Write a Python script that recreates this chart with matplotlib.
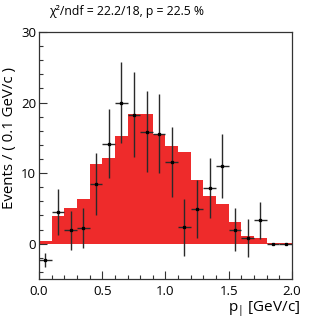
import numpy as np
import matplotlib
matplotlib.use("Agg")
import matplotlib.pyplot as plt
from matplotlib.ticker import MultipleLocator

# ---- data ----
bin_edges = [round(0.1 * i, 1) for i in range(21)]
fit_values = [0.4, 3.9, 5.0, 6.3, 11.3, 12.1, 15.2, 18.4, 18.4, 15.5,
              13.9, 13.0, 9.0, 6.8, 5.6, 3.1, 1.1, 0.76, 0.1, 0.05]
data_values = [-2.3, 4.5, 1.9, 2.2, 8.5, 14.2, 20.0, 18.3, 15.9, 15.6,
               11.6, 2.3, 4.9, 7.9, 11.0, 2.0, 0.86, 3.3, 0.0, 0.0]
data_errors = [1.0, 3.3, 2.8, 2.8, 4.4, 4.9, 5.7, 6.0, 5.7, 5.6,
               5.0, 4.0, 4.1, 4.2, 4.5, 3.0, 2.7, 2.6, 0.1, 0.1]
title_text = "\u03c7\u00b2/ndf = 22.2/18, p = 22.5 %"
y_label = "Events / ( 0.1 GeV/c )"
x_label = r"$\mathregular{p_{|}}$ [GeV/c]"

plt.rcParams['font.family'] = ['Open Sans', 'DejaVu Sans']
plt.rcParams['mathtext.fontset'] = 'custom'
plt.rcParams['mathtext.rm'] = 'Open Sans'

fig = plt.figure(figsize=(3.27, 3.22), dpi=100)
ax = fig.add_axes([39/327, 1 - 279/322, (292 - 39)/327, (279 - 32)/322])

edges = np.array(bin_edges)
centers = 0.5 * (edges[:-1] + edges[1:])
ax.stairs(fit_values, edges, fill=True, color='#ee2b2b', baseline=0, zorder=1)
ax.errorbar(centers, data_values, yerr=data_errors, xerr=0.05, fmt='s',
            ms=1.4, color='black', ecolor='#2a2a2a', elinewidth=1.0,
            capsize=0, zorder=3)

ax.set_xlim(0, 2.0)
ax.set_ylim(-5, 30)
ax.xaxis.set_major_locator(MultipleLocator(0.5))
ax.xaxis.set_minor_locator(MultipleLocator(0.1))
ax.yaxis.set_major_locator(MultipleLocator(10))
ax.yaxis.set_minor_locator(MultipleLocator(2))
ax.xaxis.set_major_formatter(matplotlib.ticker.FormatStrFormatter('%.1f'))
ax.tick_params(which='both', direction='in', top=False, right=False,
               labelsize=9.5, width=0.8, color='#333333')
ax.tick_params(which='major', length=5.5)
ax.tick_params(which='minor', length=3)
ax.tick_params(axis='y', pad=2)
ax.tick_params(axis='x', pad=4)
for s in ax.spines.values():
    s.set_linewidth(0.9)
    s.set_color('#333333')

fig.text(49/327, 1 - 15/322, title_text, fontsize=8.8, ha='left', va='baseline')
fig.text(10/327, 1 - 138/322, y_label, fontsize=10.8, rotation=90, ha='center', va='center')
fig.text(300/327, 1 - 312/322, x_label, fontsize=11, ha='right', va='baseline')

fig.savefig("out.png", dpi=100)
